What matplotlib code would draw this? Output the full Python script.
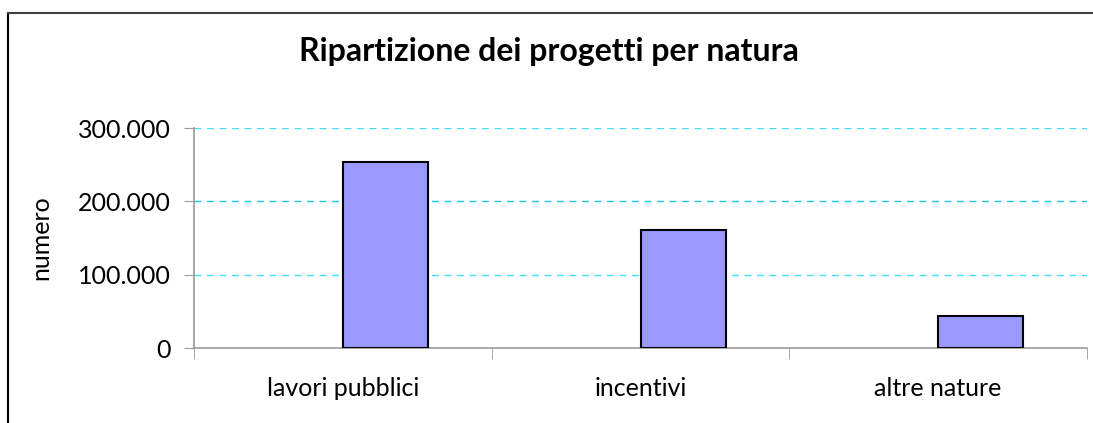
# Bar chart: ripartizione dei progetti per natura
import matplotlib.pyplot as plt
from matplotlib.lines import Line2D
from matplotlib.ticker import FuncFormatter

# ----- DATA ---------------------------------------------------------------
categories = ['lavori pubblici', 'incentivi', 'altre nature']
values = [253000, 161000, 44000]
yticks = [0, 100000, 200000, 300000]
grid_colors = ['#44ddff', '#22c4e8', '#44ddff']

plt.rcParams['font.family'] = ['Lato', 'DejaVu Sans']

W, H = 1093, 423
fig = plt.figure(figsize=(W / 100, H / 100), dpi=100)
ax = fig.add_axes([194 / W, 1 - 348 / H, (1087 - 194) / W, (348 - 128) / H])

# Excel style: empty first series, bar sits in the right half of each category
bar_w = 1 / 3.5
xs = [i + 0.5 + bar_w / 2 for i in range(len(categories))]
ax.bar(xs, values, width=bar_w, color='#9999ff', edgecolor='black',
       linewidth=1.5, zorder=3)

ax.set_xlim(0, len(categories))
ax.set_ylim(0, 300000)
ax.set_yticks(yticks)
ax.yaxis.set_major_formatter(FuncFormatter(lambda v, p: f'{v:,.0f}'.replace(',', '.')))
for y, c in zip(yticks[1:], grid_colors):
    ax.axhline(y, color=c, lw=1.0, ls=(0, (5, 4)), zorder=1)

ax.set_xticks([i + 0.5 for i in range(len(categories))])
ax.set_xticklabels(categories, fontsize=18)
ax.set_xticks(range(len(categories) + 1), minor=True)
ax.tick_params(axis='x', which='major', length=0, pad=21)
ax.tick_params(axis='x', which='minor', length=8, color='#999999', direction='out')
ax.tick_params(axis='y', length=7, color='#999999', labelsize=18, pad=10)

for s in ['top', 'right']:
    ax.spines[s].set_visible(False)
for s in ['left', 'bottom']:
    ax.spines[s].set_color('#999999')
    ax.spines[s].set_linewidth(1.2)

ax.set_ylabel('numero', fontsize=18, labelpad=18)

fig.text(549 / W, 1 - 52 / H, 'Ripartizione dei progetti per natura',
         ha='center', va='center', fontsize=23, fontweight='bold')

# outer chart frame (partly cut off at right/bottom)
fig.add_artist(Line2D([8 / W, 8 / W], [0, 1 - 13 / H], color='black', lw=1.5))
fig.add_artist(Line2D([8 / W, 1], [1 - 13 / H, 1 - 13 / H], color='#404040', lw=1.5))

fig.savefig('out.png', dpi=100)
